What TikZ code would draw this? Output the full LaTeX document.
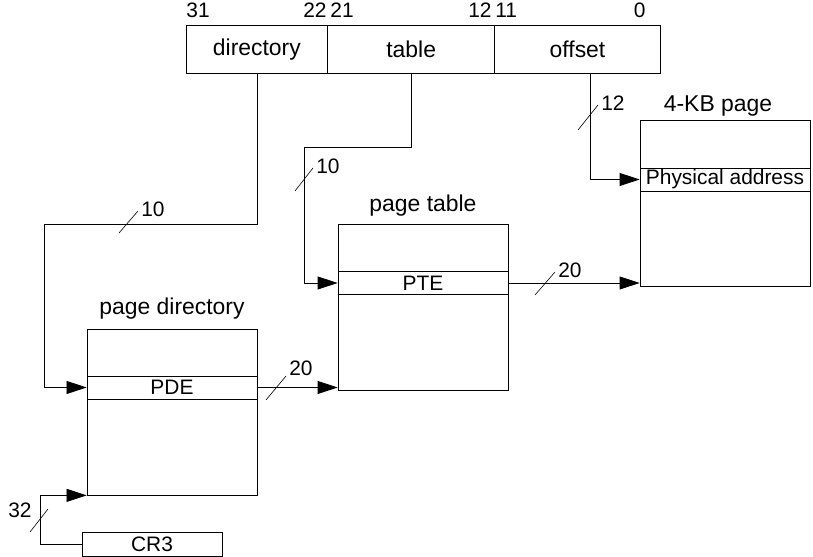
\documentclass[tikz,border=0pt]{standalone}
\usepackage{fontspec}
\setmainfont{Liberation Sans}
\usetikzlibrary{arrows.meta, shapes.multipart, positioning}

\begin{document}
\begin{tikzpicture}[x=1bp, y=1bp, >={Triangle[length=20bp, width=13bp]},
      line width=0.8bp,
      every node/.style={font=\fontsize{21}{25}\selectfont},
      reg/.style={rectangle split, rectangle split horizontal,
          rectangle split parts=3, draw, inner sep=0pt,
          minimum height=48bp, font=\fontsize{23}{27}\selectfont},
      tbl/.style={draw, minimum width=170bp, minimum height=166bp},
      entry/.style={draw, fill=white, inner sep=0pt,
          minimum width=170bp, minimum height=23bp},
      title/.style={anchor=base, font=\fontsize{23}{27}\selectfont},
      bits/.style={inner sep=0pt},
      tick/.style={line width=0.6bp},
      count/.style={anchor=west, inner sep=3bp, yshift=2bp}]
    \useasboundingbox (0,0) rectangle (813,557);

    % linear address
    \node[reg, anchor=north west] (addr) at (186,532)
    {
      \nodepart{one}      \makebox[141bp]{directory}
      \nodepart{two}      \makebox[166bp]{table}
      \nodepart{three}    \makebox[165bp]{offset}
    };
    \node[bits, anchor=base west] (b31) at (186,539) {31};
    \node[bits, anchor=base east] (b22) at (327,539) {22};
    \node[bits, anchor=base west] (b21) at (330,539) {21};
    \node[bits, anchor=base east] (b12) at (492,539) {12};
    \node[bits, anchor=base west] (b11) at (495,539) {11};
    \node[bits, anchor=base east] (b0) at (646,539) {0};

    % tables
    \node[tbl] (pdir) at (172,145) {};
    \node[entry] (pde) at (172,169.5) {PDE};
    \node[title] (pdirlbl) at ([yshift=14bp]pdir.north) {page directory};

    \node[tbl] (ptbl) at (423,250) {};
    \node[entry] (pte) at (423,274) {PTE};
    \node[title] (ptbllbl) at ([yshift=12bp]ptbl.north) {page table};

    \node[tbl] (page) at (725,354) {};
    \node[entry] (phys) at (725,377.5) {Physical address};
    \node[title] (pagelbl) at ([xshift=-7bp, yshift=8bp]page.north) {4-KB page};

    \node[entry, minimum width=140bp, minimum height=24bp] (cr3) at (152,13) {CR3};

    % connectors
    \coordinate (dirbend) at (44,333);
    \coordinate (tblbend) at (304,410);
    \coordinate (crbend) at (40,13);
    \draw[->] (addr.one south) |- (dirbend) |- (pde.west);
    \draw[->] (addr.two south) |- (tblbend) |- (pte.west);
    \draw[->] ([xshift=12.5bp]addr.three south) |- (phys.west);
    \draw[->] (pde.east) -- (pde.east -| ptbl.west);
    \draw[->] (pte.east) -- (pte.east -| page.west);
    \draw[->] (cr3.west) -- (crbend) |- (pdir.south west);

    % bit counts
    \draw[tick] (119,324) -- ++(19,22) node[count] (w1) {10};
    \draw[tick] (295,366) -- ++(18,23) node[count] (w2) {10};
    \draw[tick] (578,427) -- ++(20,25) node[count] (w3) {12};
    \draw[tick] (535,262) -- ++(20,23) node[count] (w4) {20};
    \draw[tick] (266,157) -- ++(20,24) node[count, yshift=6bp] (w5) {20};
    \draw[tick] (30,25) -- ++(18,23);
    \node[anchor=east, inner sep=0pt] (w6) at (32,47) {32};
  \end{tikzpicture}
\end{document}
